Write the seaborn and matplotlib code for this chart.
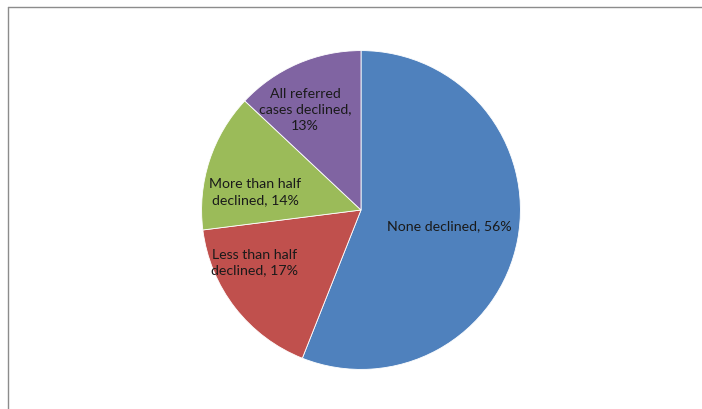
import matplotlib
matplotlib.use("Agg")
import matplotlib.pyplot as plt
import seaborn as sns
from matplotlib.lines import Line2D

sns.set_theme(style="white")
plt.rcParams['font.family'] = ['Lato', 'DejaVu Sans']

categories = ["None declined", "Less than half declined", "More than half declined", "All referred cases declined"]
values = [56, 17, 14, 13]
label_texts = ["None declined, 56%", "Less than half\ndeclined, 17%", "More than half\ndeclined, 14%", "All referred\ncases declined,\n13%"]
colors = ["#4F81BD", "#C0504D", "#9BBB59", "#8064A2"]

# label positions in pie-radius units (layout)
label_pos = [(0.555, -0.10), (-0.665, -0.33), (-0.665, 0.115), (-0.35, 0.63)]

fig = plt.figure(figsize=(7.02, 4.09), dpi=100)
fig.patch.set_facecolor("white")
ax = fig.add_axes([0.2849, 0.0929, 0.4587, 0.7873])
wedges, _ = ax.pie(values, colors=colors, startangle=90, counterclock=False,
                   radius=1.0, wedgeprops=dict(edgecolor="white", linewidth=0.6))
ax.set_xlim(-1.01, 1.01)
ax.set_ylim(-1.01, 1.01)
ax.set_aspect("auto")
ax.axis("off")

for txt, (x, y) in zip(label_texts, label_pos):
    ax.text(x, y, txt, ha="center", va="center", fontsize=10.2, color="#1a1a1a",
            linespacing=1.4)

# outer frame (top and left visible)
fig.add_artist(Line2D([8/702, 8/702], [0, 1 - 7/409], transform=fig.transFigure, color="#8c8c8c", lw=1))
fig.add_artist(Line2D([8/702, 1], [1 - 7/409, 1 - 7/409], transform=fig.transFigure, color="#8c8c8c", lw=1))

fig.savefig("out.png", dpi=100, facecolor="white")
